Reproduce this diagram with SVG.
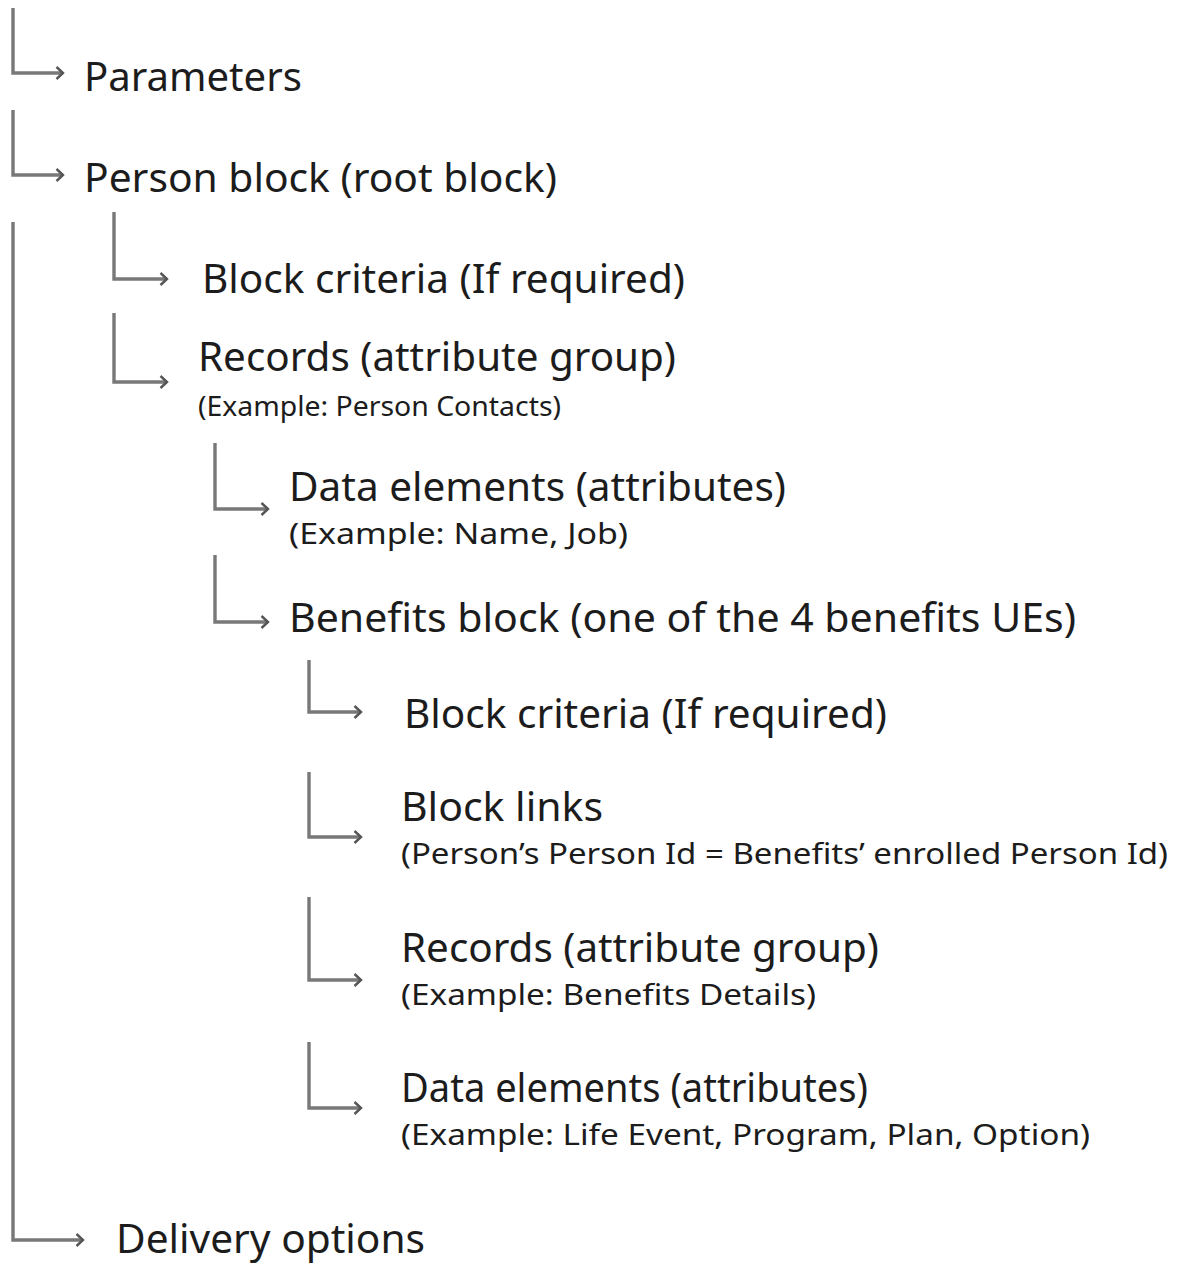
<svg xmlns="http://www.w3.org/2000/svg" width="1177" height="1265" viewBox="0 0 1177 1265">
  <style>
    .c { fill: none; stroke: #787878; stroke-width: 3.4; marker-end: url(#chev); }
    .m { font-family: "Noto Sans", "Open Sans", "Liberation Sans", sans-serif; font-size: 40px; fill: #1c1c1c; }
    .s { font-family: "Noto Sans", "Open Sans", "Liberation Sans", sans-serif; font-size: 29px; fill: #1c1c1c; }
    .s2 { font-family: "Noto Sans", "Open Sans", "Liberation Sans", sans-serif; font-size: 27px; fill: #1c1c1c; }
  </style>
  <defs>
    <marker id="chev" viewBox="0 0 12 16" refX="10.5" refY="8" markerWidth="12" markerHeight="16" markerUnits="userSpaceOnUse" orient="auto">
      <path d="M4 2 L10.5 8 L4 14" fill="none" stroke="#555" stroke-width="2.4"/>
    </marker>
  </defs>
  <rect width="1177" height="1265" fill="#ffffff"/>
  <g id="connectors">
    <path class="c" d="M13 8 V73 H63"/>
    <path class="c" d="M13 110 V175 H63"/>
    <path class="c" d="M13 222 V1240 H83"/>
    <path class="c" d="M114 212 V279 H167"/>
    <path class="c" d="M114 313 V382 H167"/>
    <path class="c" d="M215 443 V509 H268"/>
    <path class="c" d="M215 555 V622 H268"/>
    <path class="c" d="M309 660 V712 H361"/>
    <path class="c" d="M309 772 V837 H361"/>
    <path class="c" d="M309 897 V980 H361"/>
    <path class="c" d="M309 1042 V1108 H361"/>
  </g>
  <g id="parameters"><text class="m" x="84" y="91" textLength="218" lengthAdjust="spacingAndGlyphs">Parameters</text></g>
  <g id="person-block"><text class="m" x="84" y="192" textLength="473" lengthAdjust="spacingAndGlyphs">Person block (root block)</text></g>
  <g id="block-criteria-1"><text class="m" x="202" y="293" textLength="483" lengthAdjust="spacingAndGlyphs">Block criteria (If required)</text></g>
  <g id="records-1">
    <text class="m" x="198" y="371" textLength="478" lengthAdjust="spacingAndGlyphs">Records (attribute group)</text>
    <text class="s2" x="198" y="416" textLength="363" lengthAdjust="spacingAndGlyphs">(Example: Person Contacts)</text>
  </g>
  <g id="data-elements-1">
    <text class="m" x="289" y="501" textLength="497" lengthAdjust="spacingAndGlyphs">Data elements (attributes)</text>
    <text class="s" x="289" y="544" textLength="339" lengthAdjust="spacingAndGlyphs">(Example: Name, Job)</text>
  </g>
  <g id="benefits-block"><text class="m" x="289" y="632" textLength="787" lengthAdjust="spacingAndGlyphs">Benefits block (one of the 4 benefits UEs)</text></g>
  <g id="block-criteria-2"><text class="m" x="404" y="728" textLength="483" lengthAdjust="spacingAndGlyphs">Block criteria (If required)</text></g>
  <g id="block-links">
    <text class="m" x="401" y="821" textLength="202" lengthAdjust="spacingAndGlyphs">Block links</text>
    <text class="s" x="401" y="864" textLength="767" lengthAdjust="spacingAndGlyphs">(Person’s Person Id = Benefits’ enrolled Person Id)</text>
  </g>
  <g id="records-2">
    <text class="m" x="401" y="962" textLength="478" lengthAdjust="spacingAndGlyphs">Records (attribute group)</text>
    <text class="s" x="401" y="1005" textLength="415" lengthAdjust="spacingAndGlyphs">(Example: Benefits Details)</text>
  </g>
  <g id="data-elements-2">
    <text class="m" x="401" y="1102" textLength="467" lengthAdjust="spacingAndGlyphs">Data elements (attributes)</text>
    <text class="s" x="401" y="1145" textLength="689" lengthAdjust="spacingAndGlyphs">(Example: Life Event, Program, Plan, Option)</text>
  </g>
  <g id="delivery-options"><text class="m" x="116" y="1253" textLength="309" lengthAdjust="spacingAndGlyphs">Delivery options</text></g>
</svg>
